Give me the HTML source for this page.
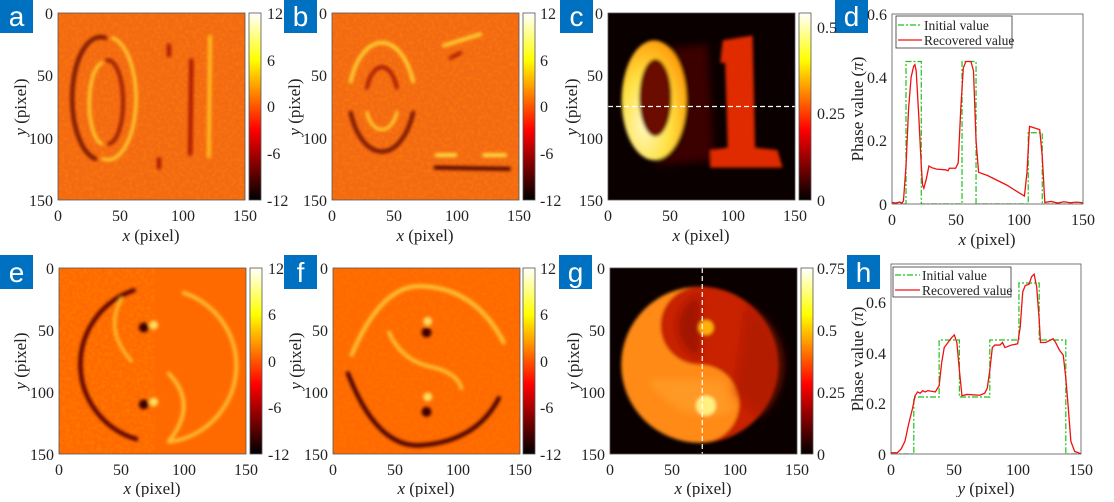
<!DOCTYPE html>
<html><head><meta charset="utf-8"><style>
html,body{margin:0;padding:0;background:#fff;}
svg text{font-family:"Liberation Serif",serif;font-size:16px;fill:#222;}
.al{font-size:17px;}
.lb{font-family:"Liberation Sans",sans-serif;font-size:28px;fill:#fff;}
.lg{font-size:13.5px;}
</style></head><body>
<svg width="1114" height="497" viewBox="0 0 1114 497" xmlns="http://www.w3.org/2000/svg">
<defs>
<linearGradient id="hot" x1="0" y1="1" x2="0" y2="0">
<stop offset="0" stop-color="#000"/><stop offset="0.375" stop-color="#f00"/><stop offset="0.75" stop-color="#ff0"/><stop offset="1" stop-color="#fff"/>
</linearGradient>
<filter id="bl" x="-20%" y="-20%" width="140%" height="140%"><feGaussianBlur stdDeviation="1.2"/></filter>
<filter id="bl3" x="-20%" y="-20%" width="140%" height="140%"><feGaussianBlur stdDeviation="3"/></filter>
<filter id="nz"><feTurbulence type="fractalNoise" baseFrequency="0.35" numOctaves="2" seed="3"/><feColorMatrix values="0 0 0 0 1  0 0 0 0 0.35  0 0 0 0 0  0 0 0 1.2 -0.5"/></filter>
<radialGradient id="gC" cx="0.35" cy="0.7" r="0.8"><stop offset="0" stop-color="#fff8c0"/><stop offset="0.5" stop-color="#ffe040"/><stop offset="1" stop-color="#ff9000"/></radialGradient>
</defs>

<g>
<rect x="0" y="0" width="33" height="33" fill="#0070c0"/><text class="lb" x="16.5" y="26" text-anchor="middle">a</text>
<rect x="284" y="0" width="33" height="33" fill="#0070c0"/><text class="lb" x="300.5" y="26" text-anchor="middle">b</text>
<rect x="560" y="0" width="33" height="33" fill="#0070c0"/><text class="lb" x="576.5" y="26" text-anchor="middle">c</text>
<rect x="835" y="0" width="33" height="33" fill="#0070c0"/><text class="lb" x="851.5" y="26" text-anchor="middle">d</text>
<rect x="0" y="255" width="33" height="34" fill="#0070c0"/><text class="lb" x="16.5" y="282" text-anchor="middle">e</text>
<rect x="284" y="255" width="33" height="34" fill="#0070c0"/><text class="lb" x="300.5" y="282" text-anchor="middle">f</text>
<rect x="559" y="255" width="33" height="34" fill="#0070c0"/><text class="lb" x="575.5" y="282" text-anchor="middle">g</text>
<rect x="847" y="255" width="33" height="34" fill="#0070c0"/><text class="lb" x="863.5" y="282" text-anchor="middle">h</text>
</g>

<!-- Panel a -->
<svg x="58" y="13" width="187" height="187" viewBox="0 0 150 150" preserveAspectRatio="none">
<rect width="150" height="150" fill="#f46a12"/>
<rect width="150" height="150" filter="url(#nz)" opacity="0.5"/>
<g filter="url(#bl)" fill="none" stroke-linecap="round">
<path d="M38 20 A22 48 0 0 0 30 117" stroke="#6a0800" stroke-width="3"/>
<path d="M44 20 A22 48 0 0 1 36 117" stroke="#ffd030" stroke-width="2.5"/>
<path d="M35 40 A12 33 0 0 0 35 105" stroke="#ffd030" stroke-width="2.5"/>
<path d="M39 38 A12 33 0 0 1 41 105" stroke="#8a1000" stroke-width="2.5"/>
<path d="M107 38 L106 113" stroke="#a01000" stroke-width="3"/>
<path d="M122 19 L121 115" stroke="#ffc020" stroke-width="3"/>
<path d="M89 26 L89 34" stroke="#a01000" stroke-width="3"/>
<path d="M81 117 L81 124" stroke="#a01000" stroke-width="3"/>
</g>
</svg>
<rect x="58" y="13" width="187" height="187" fill="none" stroke="#555" stroke-width="0.8"/>
<rect x="249" y="13" width="12" height="187" fill="url(#hot)" stroke="#555" stroke-width="0.8"/>
<g><text x="267" y="19">12</text><text x="267" y="66">6</text><text x="267" y="112">0</text><text x="267" y="159">-6</text><text x="267" y="206">-12</text></g>
<g text-anchor="end"><text x="53" y="19">0</text><text x="53" y="81">50</text><text x="53" y="144">100</text><text x="53" y="206">150</text></g>
<g text-anchor="middle"><text x="58" y="221">0</text><text x="120" y="221">50</text><text x="183" y="221">100</text><text x="245" y="221">150</text>
<text class="al" x="151" y="241"><tspan font-style="italic">x</tspan> (pixel)</text>
<text class="al" transform="translate(26 107) rotate(-90)"><tspan font-style="italic">y</tspan> (pixel)</text></g>

<!-- Panel b -->
<svg x="332" y="13" width="187" height="187" viewBox="0 0 150 150" preserveAspectRatio="none">
<rect width="150" height="150" fill="#f46a12"/>
<rect width="150" height="150" filter="url(#nz)" opacity="0.5"/>
<g filter="url(#bl)" fill="none" stroke-linecap="round">
<path d="M15 55 A27 50 0 0 1 65 55" stroke="#ffd030" stroke-width="3"/>
<path d="M15 80 A27 50 0 0 0 65 80" stroke="#6a0800" stroke-width="3"/>
<path d="M28 60 A13 27 0 0 1 52 60" stroke="#9a1000" stroke-width="2.5"/>
<path d="M28 80 A13 22 0 0 0 52 80" stroke="#ffd030" stroke-width="2.5"/>
<path d="M90 26 L119 17" stroke="#ffd030" stroke-width="3"/>
<path d="M95 36 L103 32" stroke="#a01000" stroke-width="2.5"/>
<path d="M84 114 L99 114 M122 114 L139 114" stroke="#ffe040" stroke-width="3"/>
<path d="M83 124 L142 125" stroke="#500500" stroke-width="3"/>
</g>
</svg>
<rect x="332" y="13" width="187" height="187" fill="none" stroke="#555" stroke-width="0.8"/>
<rect x="523" y="13" width="12" height="187" fill="url(#hot)" stroke="#555" stroke-width="0.8"/>
<g><text x="540" y="19">12</text><text x="540" y="66">6</text><text x="540" y="112">0</text><text x="540" y="159">-6</text><text x="540" y="206">-12</text></g>
<g text-anchor="end"><text x="327" y="19">0</text><text x="327" y="81">50</text><text x="327" y="144">100</text><text x="327" y="206">150</text></g>
<g text-anchor="middle"><text x="332" y="221">0</text><text x="394" y="221">50</text><text x="457" y="221">100</text><text x="519" y="221">150</text>
<text class="al" x="425" y="241"><tspan font-style="italic">x</tspan> (pixel)</text>
<text class="al" transform="translate(300 107) rotate(-90)"><tspan font-style="italic">y</tspan> (pixel)</text></g>

<!-- Panel c -->
<svg x="608" y="13" width="187" height="187" viewBox="0 0 150 150" preserveAspectRatio="none">
<rect width="150" height="150" fill="#0a0000"/>
<g filter="url(#bl)">
<path d="M35 30 L80 25 L85 118 L40 122 Z" fill="#4a0600" opacity="0.8" filter="url(#bl3)"/>
<path d="M92 22 L116 18 L118 108 L136 110 L140 124 L82 124 L82 110 L96 108 L94 40 L90 40 Z" fill="#e02a00"/>
<ellipse cx="37" cy="70" rx="26" ry="48" fill="url(#gC)"/>
<ellipse cx="38" cy="68" rx="13" ry="31" fill="#6a0c00"/>
</g>
<line x1="0" y1="75" x2="150" y2="75" stroke="#fff" stroke-width="1.2" stroke-dasharray="5 3" vector-effect="non-scaling-stroke"/>
</svg>
<rect x="608" y="13" width="187" height="187" fill="none" stroke="#555" stroke-width="0.8"/>
<rect x="799" y="13" width="12" height="187" fill="url(#hot)" stroke="#555" stroke-width="0.8"/>
<g><text x="817" y="33">0.5</text><text x="817" y="119">0.25</text><text x="817" y="206">0</text></g>
<g text-anchor="end"><text x="603" y="19">0</text><text x="603" y="81">50</text><text x="603" y="144">100</text><text x="603" y="206">150</text></g>
<g text-anchor="middle"><text x="608" y="221">0</text><text x="670" y="221">50</text><text x="733" y="221">100</text><text x="795" y="221">150</text>
<text class="al" x="701" y="241"><tspan font-style="italic">x</tspan> (pixel)</text>
<text class="al" transform="translate(577 107) rotate(-90)"><tspan font-style="italic">y</tspan> (pixel)</text></g>

<!-- Panel d -->
<svg x="892" y="14" width="191" height="190" viewBox="0 -0.6 150 0.6" preserveAspectRatio="none">
<polyline fill="none" stroke="#1bc41b" stroke-width="1.2" stroke-dasharray="6 2 2 2" vector-effect="non-scaling-stroke"
points="0,0 11,0 11,-0.45 23,-0.45 23,0 55,0 55,-0.45 66,-0.45 66,0 107,0 107,-0.225 118,-0.225 118,0 150,0"/>
<polyline fill="none" stroke="#f01010" stroke-width="1.3" vector-effect="non-scaling-stroke"
points="0,-0.005 3,-0.003 6,-0.006 8,-0.003 9,-0.01 11,-0.12 13,-0.3 15,-0.4 17,-0.435 18,-0.44 19,-0.42 21,-0.28 23,-0.12 24,-0.06 25,-0.05 27,-0.08 29,-0.12 31,-0.115 35,-0.11 42,-0.108 44,-0.105 45,-0.113 50,-0.113 52,-0.13 54,-0.3 56,-0.43 58,-0.45 62,-0.45 64,-0.42 66,-0.2 68,-0.1 75,-0.09 90,-0.06 100,-0.035 104,-0.025 106,-0.1 108,-0.245 112,-0.24 116,-0.235 118,-0.15 120,-0.005 125,-0.008 130,-0.003 135,-0.007 140,-0.004 145,-0.006 150,-0.004"/>
</svg>
<rect x="892" y="14" width="191" height="190" fill="none" stroke="#555" stroke-width="0.8"/>
<rect x="896" y="16" width="116" height="32" fill="#fff" stroke="#333" stroke-width="0.8"/>
<line x1="898" y1="25" x2="922" y2="25" stroke="#1bc41b" stroke-width="1.2" stroke-dasharray="6 2 2 2"/>
<line x1="898" y1="40" x2="922" y2="40" stroke="#f01010" stroke-width="1.3"/>
<text class="lg" x="924" y="30">Initial value</text><text class="lg" x="924" y="45">Recovered value</text>
<g text-anchor="end"><text x="887" y="20">0.6</text><text x="887" y="83">0.4</text><text x="887" y="146">0.2</text><text x="887" y="210">0</text></g>
<g text-anchor="middle"><text x="892" y="225">0</text><text x="956" y="225">50</text><text x="1019" y="225">100</text><text x="1083" y="225">150</text>
<text class="al" x="987" y="245"><tspan font-style="italic">x</tspan> (pixel)</text>
<text class="al" transform="translate(863 109) rotate(-90)">Phase value (<tspan font-style="italic">π</tspan>)</text></g>

<!-- Panel e -->
<svg x="59" y="268" width="187" height="186" viewBox="0 0 150 150" preserveAspectRatio="none">
<rect width="150" height="150" fill="#ff6a00"/>
<rect width="70" height="150" filter="url(#nz)" opacity="0.6"/>
<g filter="url(#bl)" fill="none" stroke-linecap="round">
<path d="M60 18 A63 63 0 0 0 62 138" stroke="#5a0500" stroke-width="3.5"/>
<path d="M100 20 A62 62 0 0 1 90 140" stroke="#ffc030" stroke-width="3"/>
<path d="M50 25 Q36 50 58 75" stroke="#ffc030" stroke-width="2.5"/>
<path d="M88 85 Q112 110 88 140" stroke="#ffc030" stroke-width="3"/>
<circle cx="68" cy="48" r="4" fill="#400000"/><circle cx="76" cy="46" r="3.5" fill="#ffe060"/>
<circle cx="68" cy="110" r="4" fill="#400000"/><circle cx="76" cy="108" r="3.5" fill="#ffe060"/>
</g>
</svg>
<rect x="59" y="268" width="187" height="186" fill="none" stroke="#555" stroke-width="0.8"/>
<rect x="250" y="268" width="12" height="186" fill="url(#hot)" stroke="#555" stroke-width="0.8"/>
<g><text x="268" y="274">12</text><text x="268" y="320">6</text><text x="268" y="367">0</text><text x="268" y="413">-6</text><text x="268" y="460">-12</text></g>
<g text-anchor="end"><text x="54" y="274">0</text><text x="54" y="336">50</text><text x="54" y="398">100</text><text x="54" y="460">150</text></g>
<g text-anchor="middle"><text x="59" y="475">0</text><text x="121" y="475">50</text><text x="184" y="475">100</text><text x="246" y="475">150</text>
<text class="al" x="152" y="494"><tspan font-style="italic">x</tspan> (pixel)</text>
<text class="al" transform="translate(26 361) rotate(-90)"><tspan font-style="italic">y</tspan> (pixel)</text></g>

<!-- Panel f -->
<svg x="333" y="268" width="187" height="186" viewBox="0 0 150 150" preserveAspectRatio="none">
<rect width="150" height="150" fill="#ff6a00"/>
<rect width="150" height="150" filter="url(#nz)" opacity="0.3"/>
<g filter="url(#bl)" fill="none" stroke-linecap="round">
<path d="M15 70 Q40 10 75 15 Q115 18 137 60" stroke="#ffc030" stroke-width="3.5"/>
<path d="M12 85 Q35 145 70 143 Q115 140 133 105" stroke="#4a0300" stroke-width="3.5"/>
<path d="M45 52 Q55 75 80 80 Q100 85 103 97" stroke="#ffc030" stroke-width="3"/>
<circle cx="76" cy="43" r="3.5" fill="#ffe060"/><circle cx="75" cy="52" r="4" fill="#400000"/>
<circle cx="76" cy="104" r="3.5" fill="#ffe060"/><circle cx="75" cy="116" r="4" fill="#400000"/>
</g>
</svg>
<rect x="333" y="268" width="187" height="186" fill="none" stroke="#555" stroke-width="0.8"/>
<rect x="523" y="268" width="12" height="186" fill="url(#hot)" stroke="#555" stroke-width="0.8"/>
<g><text x="540" y="274">12</text><text x="540" y="320">6</text><text x="540" y="367">0</text><text x="540" y="413">-6</text><text x="540" y="460">-12</text></g>
<g text-anchor="end"><text x="328" y="274">0</text><text x="328" y="336">50</text><text x="328" y="398">100</text><text x="328" y="460">150</text></g>
<g text-anchor="middle"><text x="333" y="475">0</text><text x="395" y="475">50</text><text x="458" y="475">100</text><text x="520" y="475">150</text>
<text class="al" x="426" y="494"><tspan font-style="italic">x</tspan> (pixel)</text>
<text class="al" transform="translate(301 361) rotate(-90)"><tspan font-style="italic">y</tspan> (pixel)</text></g>

<!-- Panel g -->
<svg x="610" y="268" width="187" height="186" viewBox="0 0 150 150" preserveAspectRatio="none">
<rect width="150" height="150" fill="#0a0000"/>
<g filter="url(#bl)">
<circle cx="72" cy="78" r="63" fill="#ff8a18"/>
<path d="M72 15 A63 63 0 0 1 72 141 A31.5 31.5 0 0 0 72 78 A31.5 31.5 0 0 1 72 15 Z" fill="#c82200"/>
<path d="M72 22 A24 26 0 0 0 72 72 Z" fill="#901000" opacity="0.7" filter="url(#bl3)"/>
<path d="M110 30 A55 55 0 0 1 120 120 L100 100 Z" fill="#a81400" opacity="0.6" filter="url(#bl3)"/>
<path d="M30 90 Q60 130 100 115 L90 90 Z" fill="#ffa830" opacity="0.5" filter="url(#bl3)"/>
<circle cx="77" cy="48" r="6" fill="#ffb010"/>
<circle cx="77" cy="111" r="8" fill="#fff080"/>
</g>
<line x1="74" y1="0" x2="74" y2="150" stroke="#fff" stroke-width="1.2" stroke-dasharray="5 3" vector-effect="non-scaling-stroke"/>
</svg>
<rect x="610" y="268" width="187" height="186" fill="none" stroke="#555" stroke-width="0.8"/>
<rect x="801" y="268" width="12" height="186" fill="url(#hot)" stroke="#555" stroke-width="0.8"/>
<g><text x="817" y="274">0.75</text><text x="817" y="336">0.5</text><text x="817" y="398">0.25</text><text x="817" y="460">0</text></g>
<g text-anchor="end"><text x="605" y="274">0</text><text x="605" y="336">50</text><text x="605" y="398">100</text><text x="605" y="460">150</text></g>
<g text-anchor="middle"><text x="610" y="475">0</text><text x="672" y="475">50</text><text x="735" y="475">100</text><text x="797" y="475">150</text>
<text class="al" x="703" y="494"><tspan font-style="italic">x</tspan> (pixel)</text>
<text class="al" transform="translate(579 361) rotate(-90)"><tspan font-style="italic">y</tspan> (pixel)</text></g>

<!-- Panel h -->
<svg x="891" y="264" width="190" height="190" viewBox="0 -0.75 150 0.75" preserveAspectRatio="none">
<polyline fill="none" stroke="#1bc41b" stroke-width="1.2" stroke-dasharray="6 2 2 2" vector-effect="non-scaling-stroke"
points="0,0 18,0 18,-0.225 38,-0.225 38,-0.45 54,-0.45 54,-0.225 78,-0.225 78,-0.45 101,-0.45 101,-0.675 117,-0.675 117,-0.45 138,-0.45 138,0 150,0"/>
<polyline fill="none" stroke="#f01010" stroke-width="1.3" vector-effect="non-scaling-stroke"
points="0,-0.005 5,-0.005 8,-0.02 11,-0.05 14,-0.12 17,-0.18 19,-0.23 21,-0.245 23,-0.24 25,-0.25 27,-0.245 29,-0.25 35,-0.245 38,-0.27 40,-0.36 42,-0.42 45,-0.44 48,-0.46 50,-0.47 52,-0.44 54,-0.33 56,-0.23 60,-0.235 70,-0.232 74,-0.24 76,-0.26 78,-0.33 80,-0.42 82,-0.43 86,-0.43 88,-0.44 90,-0.42 95,-0.43 100,-0.435 102,-0.5 104,-0.64 106,-0.665 109,-0.67 111,-0.7 113,-0.71 115,-0.66 117,-0.53 118,-0.44 122,-0.44 126,-0.45 128,-0.455 130,-0.44 133,-0.41 136,-0.39 138,-0.3 140,-0.18 142,-0.05 145,-0.01 148,-0.005 150,0"/>
</svg>
<rect x="891" y="264" width="190" height="190" fill="none" stroke="#555" stroke-width="0.8"/>
<rect x="893" y="267" width="118" height="30" fill="#fff" stroke="#333" stroke-width="0.8"/>
<line x1="895" y1="275" x2="920" y2="275" stroke="#1bc41b" stroke-width="1.2" stroke-dasharray="6 2 2 2"/>
<line x1="895" y1="290" x2="920" y2="290" stroke="#f01010" stroke-width="1.3"/>
<text class="lg" x="922" y="280">Initial value</text><text class="lg" x="922" y="295">Recovered value</text>
<g text-anchor="end"><text x="886" y="308">0.6</text><text x="886" y="359">0.4</text><text x="886" y="409">0.2</text><text x="886" y="460">0</text></g>
<g text-anchor="middle"><text x="891" y="475">0</text><text x="954" y="475">50</text><text x="1018" y="475">100</text><text x="1081" y="475">150</text>
<text class="al" x="986" y="494"><tspan font-style="italic">y</tspan> (pixel)</text>
<text class="al" transform="translate(863 359) rotate(-90)">Phase value (<tspan font-style="italic">π</tspan>)</text></g>
</svg>
</body></html>
